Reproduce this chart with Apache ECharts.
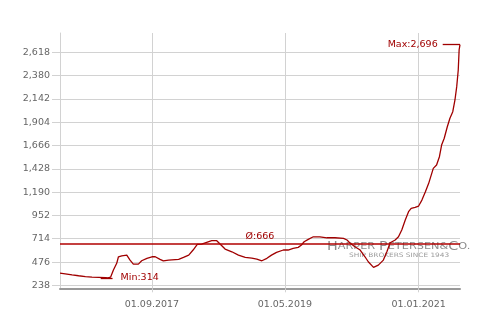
<!DOCTYPE html>
<html>
<head>
<meta charset="utf-8">
<script src="https://cdn.jsdelivr.net/npm/echarts@6/dist/echarts.min.js"></script>
<style>
html,body{margin:0;padding:0;background:#fff;}
#chart{width:499px;height:323px;}
</style>
</head>
<body>
<div id="chart"></div>
<script>
const dates = ['2016-07-08','2016-08-01','2016-09-01','2016-10-01','2016-11-01','2016-12-01','2017-01-01','2017-02-01','2017-02-12','2017-02-24','2017-03-09','2017-03-24','2017-04-01','2017-04-16','2017-05-09','2017-05-24','2017-06-08','2017-07-01','2017-07-16','2017-08-09','2017-09-01','2017-09-16','2017-10-08','2017-10-23','2017-11-16','2018-01-01','2018-01-23','2018-02-16','2018-03-08','2018-03-27','2018-04-16','2018-05-09','2018-06-01','2018-06-24','2018-07-09','2018-08-01','2018-09-01','2018-10-01','2018-11-01','2018-12-01','2018-12-24','2019-01-16','2019-02-08','2019-03-01','2019-03-24','2019-04-24','2019-05-16','2019-06-08','2019-07-01','2019-07-16','2019-07-28','2019-08-16','2019-09-08','2019-10-08','2019-11-09','2019-12-16','2020-01-24','2020-02-09','2020-02-24','2020-03-16','2020-04-09','2020-05-01','2020-05-16','2020-06-09','2020-07-01','2020-07-24','2020-08-09','2020-08-24','2020-09-16','2020-10-01','2020-10-16','2020-11-01','2020-11-16','2020-11-28','2020-12-16','2021-01-01','2021-01-16','2021-02-01','2021-02-16','2021-02-24','2021-03-09','2021-03-24','2021-04-06','2021-04-16','2021-04-28','2021-05-12','2021-05-24','2021-06-06','2021-06-16','2021-06-24','2021-07-01','2021-07-05','2021-07-09'];
const values = [362,356,345,336,328,322,320,318,314,322,394,463,530,540,547,496,455,455,489,514,530,530,504,489,496,504,524,547,599,657,660,677,694,694,660,609,581,547,524,517,507,489,514,547,575,599,599,616,626,650,683,708,734,734,724,724,718,701,667,632,599,530,479,422,445,496,581,673,701,734,803,905,990,1025,1035,1048,1109,1194,1280,1296,1433,1467,1552,1671,1740,1858,1944,2011,2131,2267,2437,2642,2696];
const yTicks = [238,476,714,952,1190,1428,1666,1904,2142,2380,2618];
const xTickDates = ['2017-09-01','2019-05-01','2021-01-01'];
const avgValue = 666;
const yMin = 208, yMax = 2815;
const minSegDates = ['2017-01-10','2017-03-05'];
const maxSegDates = ['2021-04-21','2021-07-09'];

function ts(s){const p=s.split('-').map(Number);return new Date(p[0],p[1]-1,p[2]).getTime();}
function fmt(n){return String(n).replace(/\B(?=(\d{3})+(?!\d))/g, ',');}
function pad(n){return (n<10?'0':'')+n;}

const red = '#a00000';
const gridCol = '#d2d2d2';
const minV = Math.min.apply(null, values);
const maxV = Math.max.apply(null, values);
const xMin = ts(dates[0]), xMax = ts(dates[dates.length-1]);
const seriesData = dates.map((d,i)=>[ts(d), values[i]]);

const chart = echarts.init(document.getElementById('chart'), null, {renderer:'canvas'});
chart.setOption({
  animation:false,
  backgroundColor:'#fff',
  grid:{left:60, right:39, top:33, bottom:34.7, containLabel:false},
  xAxis:{
    type:'value',
    min: xMin, max: xMax,
    axisLine:{show:true, lineStyle:{color:'#999', width:2}},
    axisTick:{show:true, length:4, lineStyle:{color:gridCol}, customValues: xTickDates.map(ts)},
    axisLabel:{
      customValues: xTickDates.map(ts),
      color:'#666', fontFamily:'DejaVu Sans', fontSize:9.5, margin:11,
      formatter:function(v){const d=new Date(v);return pad(d.getDate())+'.'+pad(d.getMonth()+1)+'.'+d.getFullYear();}
    },
    splitLine:{show:true, lineStyle:{color:gridCol, width:1}}
  },
  yAxis:{
    type:'value', min:yMin, max:yMax,
    axisLine:{show:true, lineStyle:{color:gridCol, width:1}},
    axisTick:{show:true, length:8, lineStyle:{color:gridCol}, customValues: yTicks},
    axisLabel:{customValues: yTicks, color:'#666', fontFamily:'DejaVu Sans', fontSize:9.5, margin:10, formatter:function(v){return fmt(v);}},
    splitLine:{show:true, lineStyle:{color:gridCol, width:1}}
  },
  graphic:[
    {type:'text', x:327, y:241, scaleX:1.19, z:1, silent:true,
      style:{text:'{a|H}{b|ARPER} {a|P}{b|ETERSEN}{b|&}{a|C}{b|O.}', verticalAlign:'top', rich:{
        a:{fontFamily:'DejaVu Sans', fontSize:12, fill:'#8c8c8c'},
        b:{fontFamily:'DejaVu Sans', fontSize:9.5, fill:'#8c8c8c'}
      }}},
    {type:'text', x:349, y:252.5, scaleX:1.23, z:1, silent:true,
      style:{text:'SHIP BROKERS SINCE 1943', verticalAlign:'top', fontFamily:'DejaVu Sans', fontSize:6, fill:'#9a9a9a'}}
  ],
  series:[{
    type:'line', data:seriesData, showSymbol:false, z:3,
    lineStyle:{color:red, width:1.3}, itemStyle:{color:red},
    markLine:{
      silent:true, symbol:['none','none'], animation:false,
      lineStyle:{color:red, width:1.3, type:'solid'},
      label:{color:red, fontFamily:'DejaVu Sans', fontSize:9.5},
      data:[
        [{coord:[xMin, avgValue], lineStyle:{color:'#b00000', width:1.6}, label:{position:'insideMiddleTop', distance:2, formatter:'Ø:'+fmt(avgValue)}},{coord:[xMax, avgValue]}],
        [{coord:[ts(minSegDates[0]), minV], label:{position:'end', distance:8, formatter:'Min:'+fmt(minV)}},{coord:[ts(minSegDates[1]), minV]}],
        [{coord:[ts(maxSegDates[0]), maxV], label:{position:'start', distance:5, formatter:'Max:'+fmt(maxV)}},{coord:[ts(maxSegDates[1]), maxV]}]
      ]
    }
  }]
});
</script>
</body>
</html>
